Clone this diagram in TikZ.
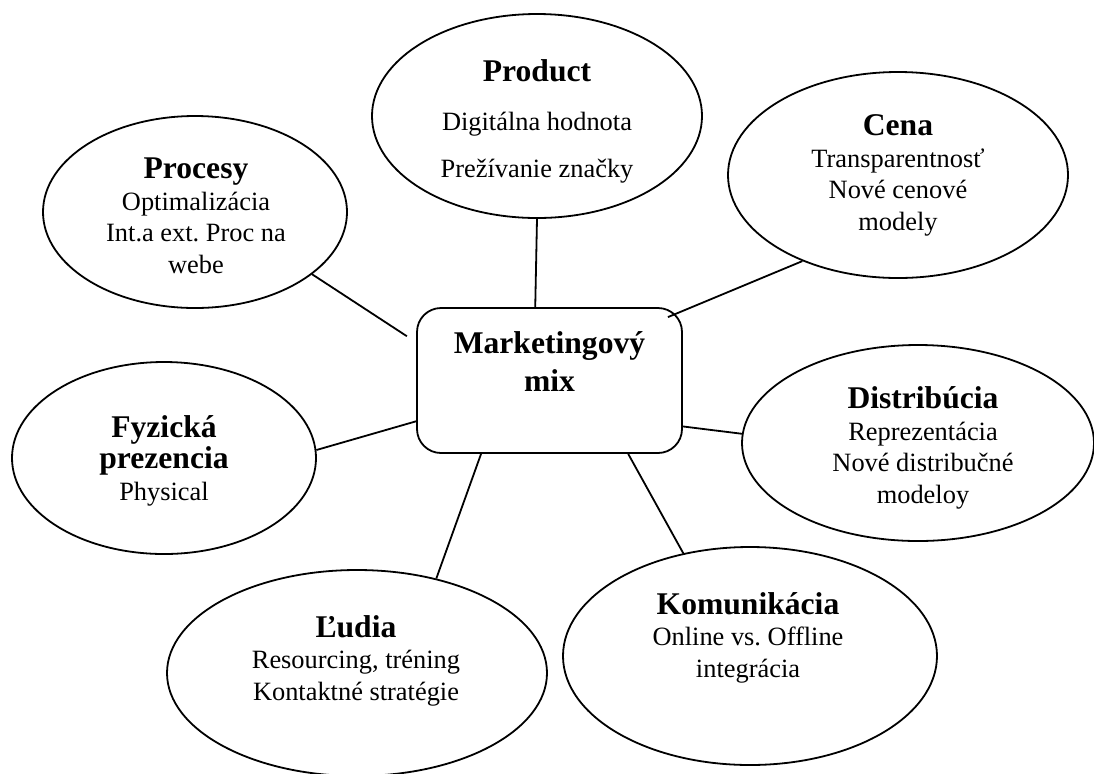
\documentclass[tikz,border=0pt]{standalone}
\usepackage{fontspec}
\setmainfont{Liberation Serif}
\usepackage{tikz}
\usetikzlibrary{shapes.geometric}
\newcommand{\mxhead}[1]{{\fontsize{15.8}{15.7}\selectfont\bfseries #1}}
\frenchspacing

\begin{document}
\begin{tikzpicture}[x=0.5pt,y=-0.5pt,
  bubble/.style={draw,ellipse,line width=0.9pt,inner sep=0pt},
  txt/.style={align=center,anchor=base,font=\fontsize{13.2}{15.7}\selectfont},
  link/.style={line width=0.9pt}]
  \useasboundingbox (0,0) rectangle (1094,773);
  \node[draw,line width=0.9pt,rounded corners=12pt,minimum width=132.5pt,minimum height=72.5pt] (mix) at (549.5,380.5) {};
  \node[bubble,minimum width=165pt,minimum height=102pt] (prod) at (537,116) {};
  \node[bubble,minimum width=170pt,minimum height=103pt] (cena) at (898,175) {};
  \node[bubble,minimum width=152pt,minimum height=96pt] (proc) at (195,212) {};
  \node[bubble,minimum width=176pt,minimum height=98pt] (dist) at (918,443) {};
  \node[bubble,minimum width=152pt,minimum height=96pt] (fyz) at (164,458) {};
  \node[bubble,minimum width=190pt,minimum height=103pt] (lud) at (357,673) {};
  \node[bubble,minimum width=187pt,minimum height=109pt] (kom) at (750,656) {};
  \node[txt] (mixtxt) at (549.5,391) {\mxhead{Marketingový}\\[3pt]\mxhead{mix}};
  \node[txt] (prodtxt) at (537,177) {\mxhead{Product}\\[9pt]Digitálna hodnota\\[7.5pt]Prežívanie značky};
  \node[txt] (cenatxt) at (898,230) {\mxhead{Cena}\\Transparentnosť\\Nové cenové\\modely};
  \node[txt] (proctxt) at (196,273) {\mxhead{Procesy}\\Optimalizácia\\Int.a ext. Proc na\\webe};
  \node[txt] (disttxt) at (923,503) {\mxhead{Distribúcia}\\Reprezentácia\\Nové distribučné\\modeloy};
  \node[txt] (fyztxt) at (164,500) {\mxhead{Fyzická}\\\mxhead{prezencia}\\Physical};
  \node[txt] (ludtxt) at (356,700) {\mxhead{Ľudia}\\Resourcing, tréning\\Kontaktné stratégie};
  \node[txt] (komtxt) at (748,677) {\mxhead{Komunikácia}\\Online vs. Offline\\integrácia};
  \draw[link] (prod.270) -- (mix.101.3);
  \draw[link] (cena.222.5) -- ([shift={(-15,10)}]mix.north east);
  \draw[link,shorten >=5.5pt] (proc.332.9) -- (mix.164.2);
  \draw[link] (fyz.3.7) -- (mix.197.8);
  \draw[link] (lud.50.2) -- (mix.227.5);
  \draw[link] (kom.123.8) -- (mix.317.3);
  \draw[link] (dist.177) -- (mix.341.8);
\end{tikzpicture}
\end{document}
